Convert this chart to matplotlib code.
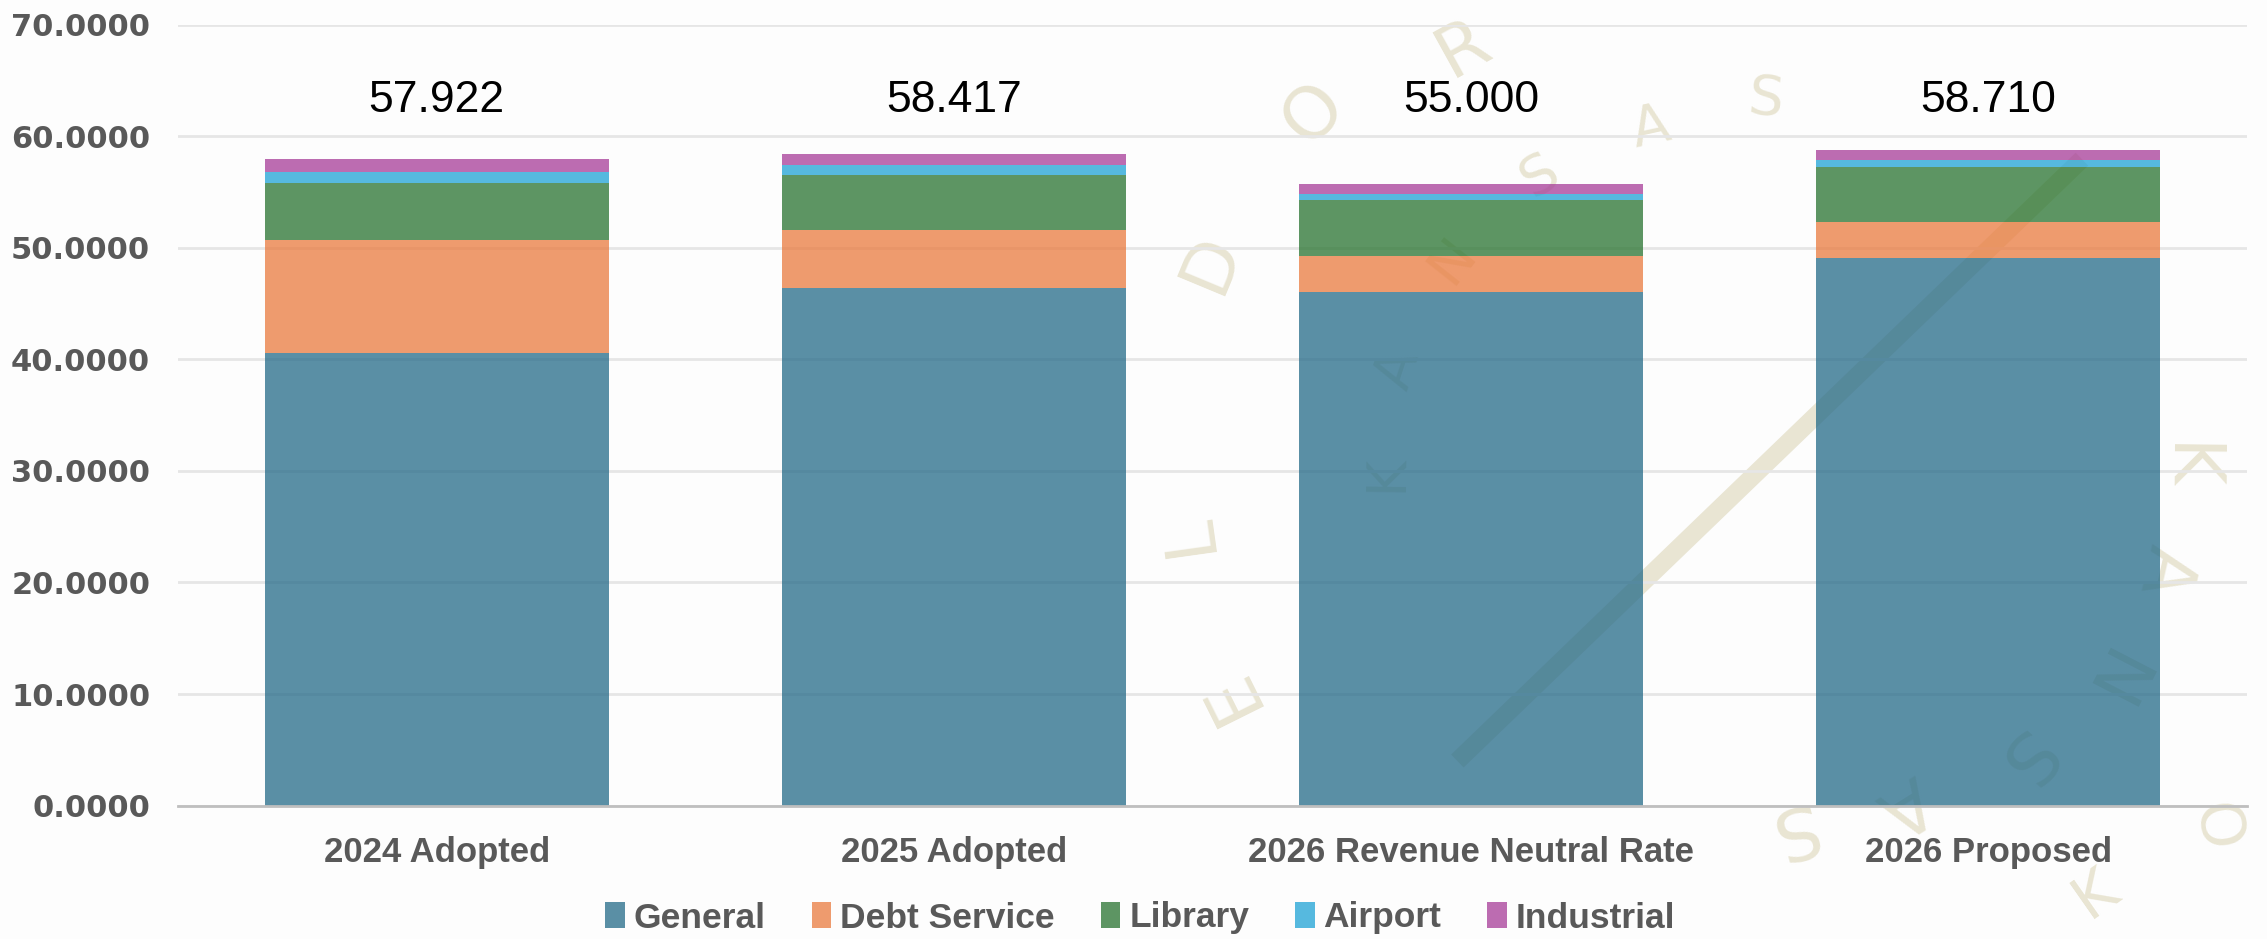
import numpy as np
import matplotlib
matplotlib.use('Agg')
import matplotlib.pyplot as plt
from matplotlib.lines import Line2D
from matplotlib import font_manager

# data
categories = ['2024 Adopted', '2025 Adopted', '2026 Revenue Neutral Rate', '2026 Proposed']
general = [40.56, 46.41, 46.05, 49.07]
debt_service = [10.09, 5.14, 3.22, 3.22]
library = [5.17, 4.98, 4.97, 4.96]
airport = [0.95, 0.93, 0.56, 0.57]
industrial = [1.15, 0.96, 0.90, 0.90]
total_labels = ['57.922', '58.417', '55.000', '58.710']

series = [('General', general, '#246A88'),
          ('Debt Service', debt_service, '#E97A3E'),
          ('Library', library, '#28732F'),
          ('Airport', airport, '#1EA2D6'),
          ('Industrial', industrial, '#A63B98')]

installed = {f.name for f in font_manager.fontManager.ttflist}
narrow = [f for f in ['Liberation Sans Narrow', 'DejaVu Sans Condensed'] if f in installed]
narrow = narrow + ['Liberation Sans']

W, H = 2267, 939
fig = plt.figure(figsize=(W / 100, H / 100), dpi=100)
fig.patch.set_facecolor('#FDFDFD')

# faint "El Dorado Kansas" seal watermark behind the chart (shrunk-image coords)
wm_color = '#E9E5D3'
outer = [('E', 851, 479), ('L', 822, 369), ('D', 838, 182), ('O', 909, 78), ('R', 1012, 34),
         ('K', 1512, 323), ('A', 1497, 394), ('N', 1458, 469), ('S', 1397, 523),
         ('A', 1317, 555), ('S', 1237, 572)]
inner = [('K', 959, 327), ('A', 967, 255), ('N', 1005, 180), ('S', 1065, 122),
         ('A', 1142, 88), ('S', 1221, 69)]
extra = [('O', 1540, 566, 100), ('K', 1450, 618, 35)]
sx = 1568.0
sy = 649.0
for group, (cx, cy), fs in [(outer, (1170, 320), 52), (inner, (1195, 330), 40)]:
    for ch, x, y in group:
        rot = np.degrees(np.arctan2(-(y - cy), x - cx)) - 90
        fig.text(x / sx, 1 - y / sy, ch, fontsize=fs, color=wm_color, rotation=rot,
                 ha='center', va='center', family='DejaVu Sans', zorder=-1)
for ch, x, y, rot in extra:
    fig.text(x / sx, 1 - y / sy, ch, fontsize=44, color=wm_color, rotation=rot,
             ha='center', va='center', family='DejaVu Sans', zorder=-1)
fig.add_artist(Line2D([1008 / sx, 1440 / sx], [1 - 526 / sy, 1 - 110 / sy],
                      transform=fig.transFigure, color=wm_color, lw=13,
                      solid_capstyle='butt', zorder=-1))

ax = fig.add_axes([178 / W, 1 - 805.6 / H, (2247 - 178) / W, (805.6 - 24.6) / H])
ax.set_facecolor('none')

x = np.arange(len(categories))
bottom = np.zeros(len(categories))
for name, vals, col in series:
    ax.bar(x, vals, 0.665, bottom=bottom, color=col, alpha=0.75, label=name,
           linewidth=0, zorder=2)
    bottom += np.array(vals)

# total labels sit at a fixed height above the bars
for i, lab in enumerate(total_labels):
    fam = narrow if i == 2 else ['Liberation Sans']
    ax.text(x[i], 63.2, lab, ha='center', va='center', fontsize=32,
            color='black', family=fam, zorder=3)

ax.set_xlim(-0.5, 3.5)
ax.set_ylim(0, 70)
ax.set_yticks(np.arange(0, 71, 10))
ax.set_yticklabels(['%.4f' % v for v in np.arange(0, 71, 10)])
ax.set_xticks(x)
ax.set_xticklabels(categories)
ax.set_axisbelow(True)
ax.yaxis.grid(True, color='#E6E6E6', lw=2)
for s in ['top', 'right', 'left']:
    ax.spines[s].set_visible(False)
ax.spines['bottom'].set_color('#BFBFBF')
ax.spines['bottom'].set_linewidth(2)
ax.tick_params(axis='both', length=0)
ax.tick_params(axis='y', pad=20)
ax.tick_params(axis='x', pad=22)
for t in ax.get_yticklabels():
    t.set_family('DejaVu Sans')
    t.set_fontweight('bold')
    t.set_fontsize(22)
    t.set_color('#595959')
for t in ax.get_xticklabels():
    t.set_family('Liberation Sans')
    t.set_fontweight('bold')
    t.set_fontsize(25)
    t.set_color('#595959')

leg_size = 28 if narrow[0] != 'Liberation Sans' else 25.5
leg = fig.legend(loc='center', bbox_to_anchor=(0.503, 1 - 918 / H), ncol=5,
                 frameon=False, handlelength=0.55, handleheight=0.75,
                 handletextpad=0.25, columnspacing=1.3,
                 prop={'family': narrow, 'weight': 'bold', 'size': leg_size})
for t in leg.get_texts():
    t.set_color('#595959')

fig.savefig('out.png', dpi=100, facecolor=fig.get_facecolor())
